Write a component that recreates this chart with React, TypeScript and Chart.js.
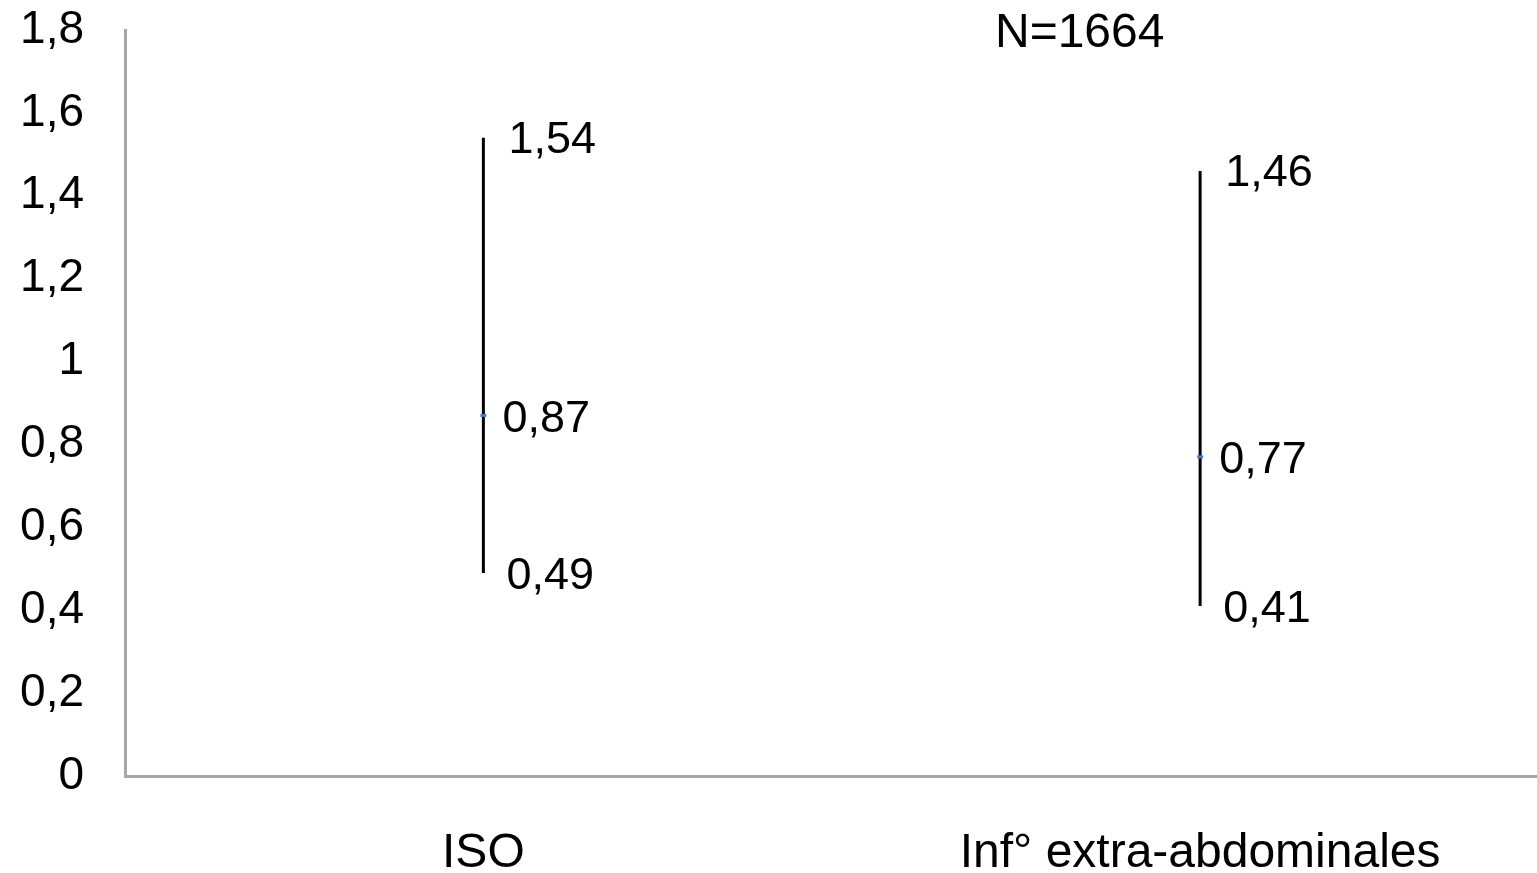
import React, { useEffect, useRef } from "react";
import { Chart, registerables } from "chart.js";

Chart.register(...registerables);

const categories = ["ISO", "Inf° extra-abdominales"];
const lowValues = [0.49, 0.41];
const midValues = [0.87, 0.77];
const highValues = [1.54, 1.46];
const yMin = 0;
const yMax = 1.8;
const yStep = 0.2;
const noteText = "N=1664";

const FONT = '"Liberation Sans", Arial, Helvetica, sans-serif';
const W = 1537;
const H = 873;

const fmtTick = (v: number) => String(Number(v.toFixed(1))).replace(".", ",");
const fmtVal = (v: number) => v.toFixed(2).replace(".", ",");

export default function App() {
  const ref = useRef<HTMLCanvasElement | null>(null);

  useEffect(() => {
    if (!ref.current) return;

    const labelPlugin = {
      id: "valueLabels",
      afterDatasetsDraw(chart: any) {
        const { ctx, scales } = chart;
        const xs = scales.x;
        const ys = scales.y;
        ctx.save();
        ctx.fillStyle = "#000";
        ctx.font = `45px ${FONT}`;
        ctx.textAlign = "left";
        ctx.textBaseline = "middle";
        categories.forEach((_, i) => {
          const px = xs.getPixelForValue(i);
          ctx.fillText(fmtVal(highValues[i]), px + 25, ys.getPixelForValue(highValues[i]) + 3);
          ctx.fillText(fmtVal(midValues[i]), px + 19, ys.getPixelForValue(midValues[i]) + 4);
          ctx.fillText(fmtVal(lowValues[i]), px + 23, ys.getPixelForValue(lowValues[i]) + 4);
        });
        ctx.textAlign = "center";
        ctx.font = `48px ${FONT}`;
        ctx.fillText(noteText, xs.getPixelForValue(0.832), ys.getPixelForValue(1.79));
        ctx.restore();
      },
    };

    const datasets: any[] = [
      {
        label: "mid",
        data: categories.map((_, i) => ({ x: i, y: midValues[i] })),
        showLine: false,
        pointStyle: "line",
        pointRadius: 3,
        pointBorderWidth: 3,
        pointBorderColor: "#4a7bd0",
        pointBackgroundColor: "#4a7bd0",
      },
      ...categories.map((_, i) => ({
        label: categories[i],
        data: [
          { x: i, y: lowValues[i] },
          { x: i, y: highValues[i] },
        ],
        showLine: true,
        borderColor: "#000",
        borderWidth: 3,
        pointRadius: 0,
      })),
    ];

    const chart = new Chart(ref.current, {
      type: "scatter",
      data: { datasets },
      options: {
        animation: false,
        responsive: false,
        maintainAspectRatio: false,
        devicePixelRatio: 1,
        events: [],
        layout: { autoPadding: false, padding: { top: 30, left: 0, right: 0, bottom: 0 } },
        plugins: {
          legend: { display: false },
          tooltip: { enabled: false },
          title: { display: false },
        },
        scales: {
          x: {
            type: "linear",
            min: -0.5,
            max: 1.47,
            grid: { display: false, drawTicks: false },
            border: { display: true, color: "#a6a6a6", width: 3 },
            afterBuildTicks(scale: any) {
              scale.ticks = categories.map((_, i) => ({ value: i }));
            },
            afterFit(scale: any) {
              scale.height = 97;
              scale.paddingLeft = 0;
              scale.paddingRight = 0;
              scale.paddingTop = 0;
              scale.paddingBottom = 0;
            },
            ticks: {
              color: "#000",
              padding: 49,
              maxRotation: 0,
              autoSkip: false,
              font: { family: FONT, size: 48 },
              callback: (v: any) => categories[Math.round(Number(v))] ?? "",
            },
          },
          y: {
            type: "linear",
            min: yMin,
            max: yMax,
            grid: { display: false, drawTicks: false },
            border: { display: true, color: "#a6a6a6", width: 3 },
            afterFit(scale: any) {
              scale.width = 125;
              scale.paddingLeft = 0;
              scale.paddingRight = 0;
              scale.paddingTop = 0;
              scale.paddingBottom = 0;
            },
            ticks: {
              stepSize: yStep,
              color: "#000",
              padding: 41,
              font: { family: FONT, size: 46 },
              callback: (v: any) => fmtTick(Number(v)),
            },
          },
        },
      },
      plugins: [labelPlugin],
    } as any);

    return () => chart.destroy();
  }, []);

  return (
    <div
      style={{
        position: "fixed",
        left: 0,
        top: 0,
        width: `${W}px`,
        height: `${H}px`,
        background: "#fff",
        overflow: "hidden",
      }}
    >
      <canvas
        ref={ref}
        width={W}
        height={H}
        style={{ display: "block", width: `${W}px`, height: `${H}px` }}
      />
    </div>
  );
}
